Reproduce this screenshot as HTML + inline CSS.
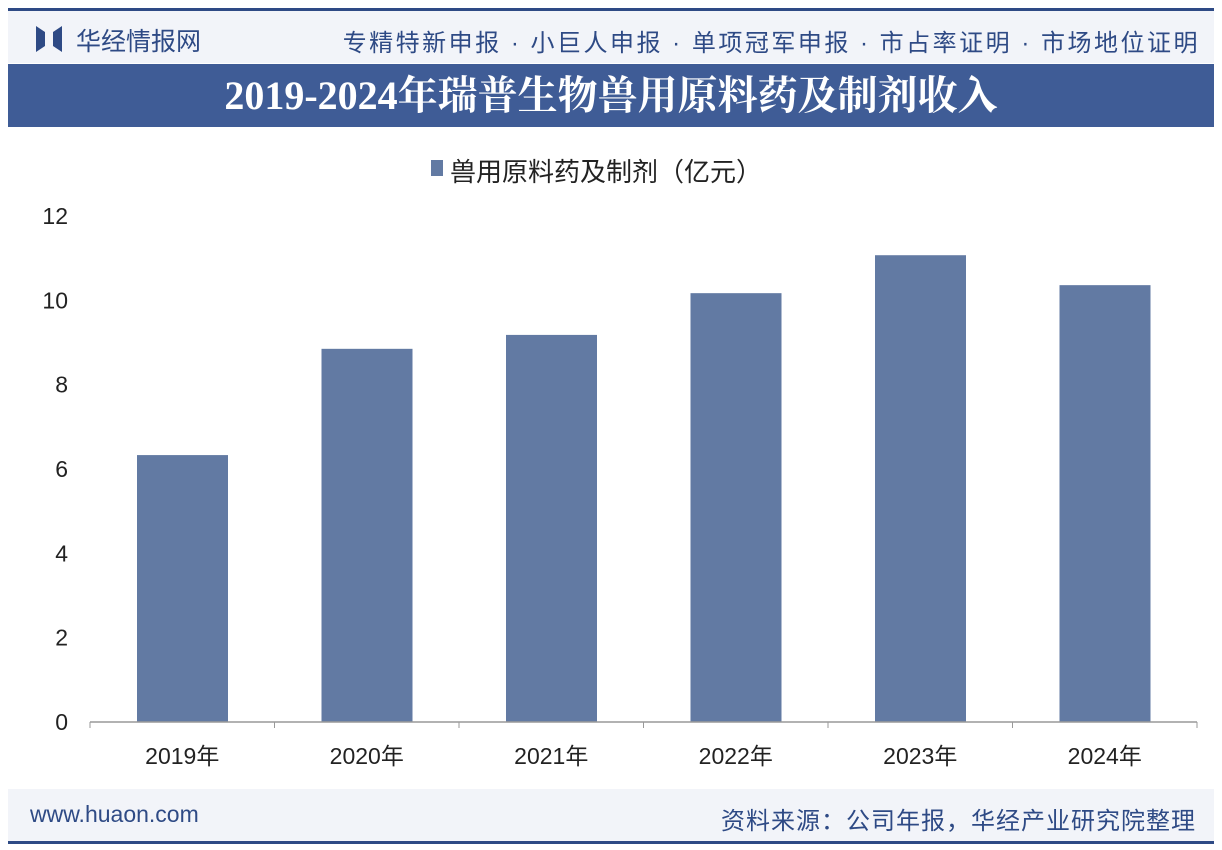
<!DOCTYPE html>
<html><head><meta charset="utf-8"><style>
body{margin:0;width:1222px;height:850px;background:#fff;position:relative;overflow:hidden;font-family:"Liberation Sans","Noto Sans CJK SC",sans-serif}
.abs{position:absolute}
</style></head><body>
<div class="abs" style="left:8px;top:8px;width:1206px;height:3px;background:#2e4a85"></div>
<div class="abs" style="left:8px;top:11px;width:1206px;height:52px;background:#f2f4f9"></div>
<svg class="abs" style="left:36px;top:26px" width="26" height="26"><path d="M0 0L9 6V20L0 26Z M26 0L17 6V20L26 26Z" fill="#2e4a85"/></svg>
<div class="abs" style="left:76px;top:22px;font-size:25px;color:#2e4a85">华经情报网</div>
<div class="abs" style="right:22px;top:23px;font-size:24px;color:#2e4a85;letter-spacing:2.5px;white-space:nowrap">专精特新申报 · 小巨人申报 · 单项冠军申报 · 市占率证明 · 市场地位证明</div>
<div class="abs" style="left:8px;top:64px;width:1206px;height:63px;background:#3f5c96;color:#fff;font-family:'Liberation Serif','Noto Serif CJK SC',serif;font-weight:bold;font-size:40px;text-align:center;line-height:63px">2019-2024年瑞普生物兽用原料药及制剂收入</div>
<div class="abs" style="left:431px;top:160px;width:12px;height:16px;background:#627aa3"></div>
<div class="abs" style="left:450px;top:152px;font-size:26px;color:#222">兽用原料药及制剂（亿元）</div>
<svg class="abs" style="left:0;top:0" width="1222" height="850" id="chart"></svg>
<div class="abs" style="left:8px;top:789px;width:1206px;height:52px;background:#f2f4f9"></div>
<div class="abs" style="left:30px;top:801px;font-size:23px;color:#2e4a85">www.huaon.com</div>
<div class="abs" style="right:26px;top:801px;font-size:24px;color:#2e4a85;letter-spacing:1px">资料来源：公司年报，华经产业研究院整理</div>
<div class="abs" style="left:8px;top:841px;width:1206px;height:3px;background:#2e4a85"></div>
<script>
const categories=["2019年","2020年","2021年","2022年","2023年","2024年"];
const values=[6.33,8.85,9.18,10.17,11.07,10.36];
const yTicks=[0,2,4,6,8,10,12];
const svg=document.getElementById('chart');
const NS='http://www.w3.org/2000/svg';
const x0=90,x1=1197,y0=722,yTop=216,yMax=12;
const yS=v=>y0-(y0-yTop)*v/yMax;
const bw=(x1-x0)/categories.length;
function mk(t,a){const e=document.createElementNS(NS,t);for(const k in a)e.setAttribute(k,a[k]);svg.appendChild(e);return e;}
yTicks.forEach(t=>{
  const tx=mk('text',{x:68,y:yS(t)+8,'text-anchor':'end','font-size':23,fill:'#222'});
  
  
  tx.textContent=t;
});
values.forEach((v,i)=>{
  const r=mk('rect',{x:x0+i*bw+47,y:yS(v),width:91,height:y0-yS(v),fill:'#627aa3'});
  
  
  const t=mk('text',{x:x0+i*bw+bw/2,y:764,'text-anchor':'middle','font-size':23,fill:'#222'});
  
  
  t.textContent=categories[i];
});
const ax=mk('line',{x1:x0,y1:y0,x2:x1,y2:y0,stroke:'#999','stroke-width':1.5});


for(let i=0;i<=categories.length;i++){
  const tk=mk('line',{x1:x0+i*bw,y1:y0,x2:x0+i*bw,y2:y0+6,stroke:'#999'});
  
  
}
</script>
</body></html>
